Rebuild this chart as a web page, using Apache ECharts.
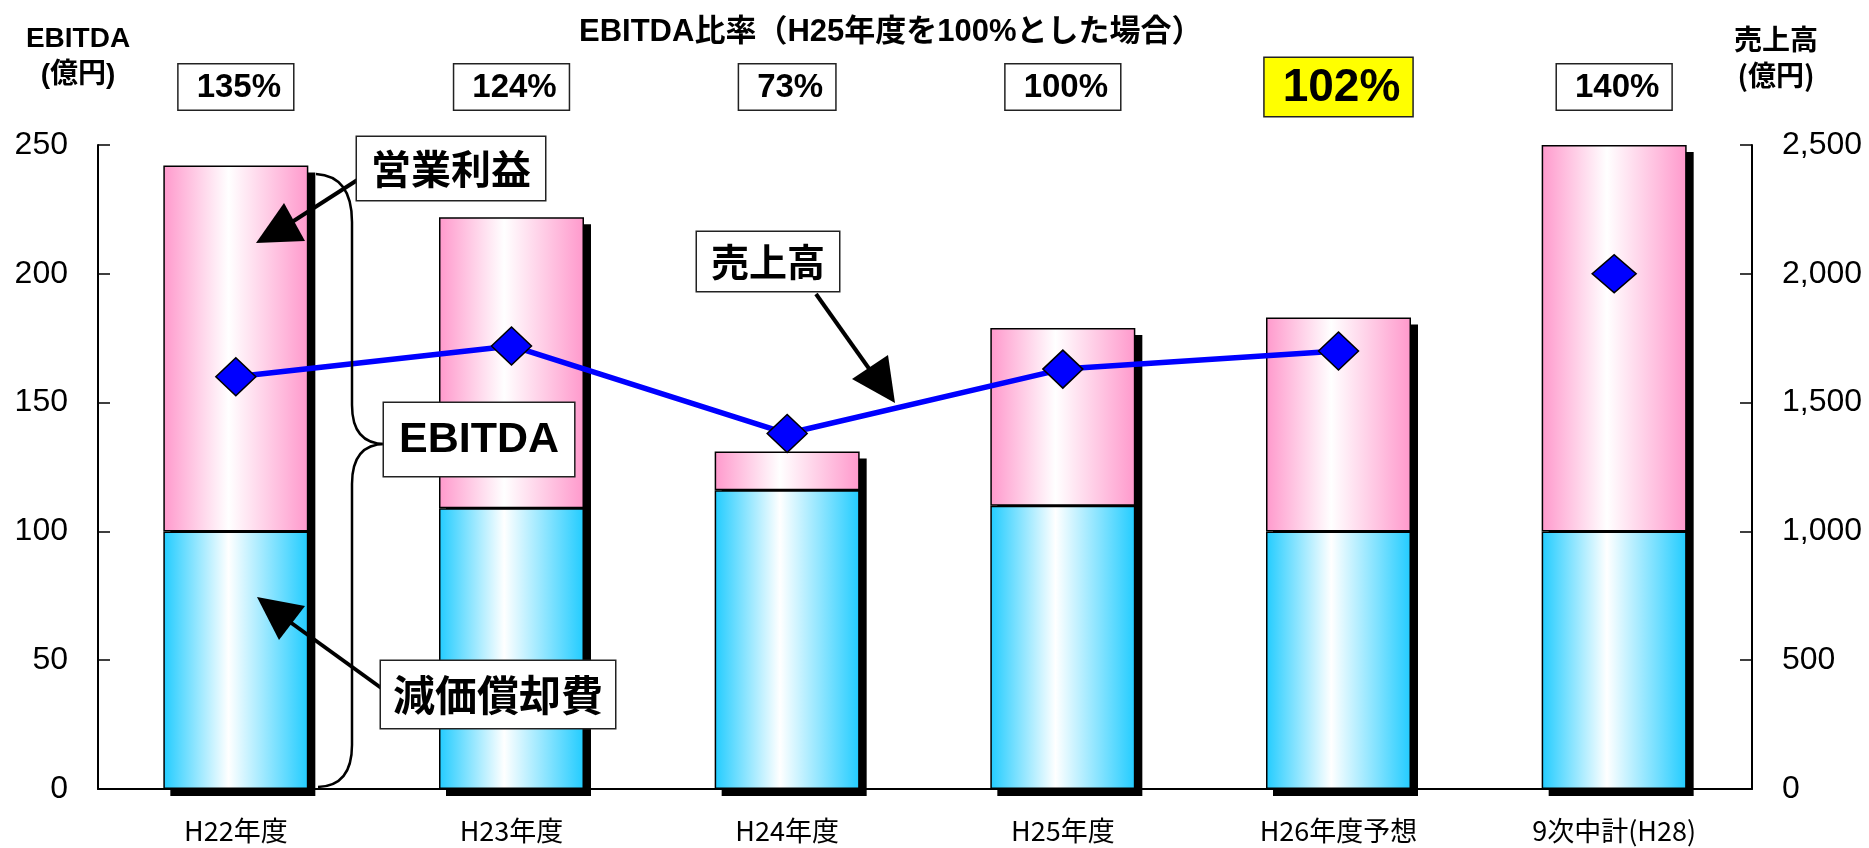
<!DOCTYPE html>
<html>
<head>
<meta charset="utf-8">
<script src="https://cdn.jsdelivr.net/npm/echarts@6.0.0/dist/echarts.min.js"></script>
<style>
html, body { margin: 0; padding: 0; background: #fff; }
#main { width: 1869px; height: 848px; }
</style>
</head>
<body>
<div id="main"></div>
<script>
// データ
const categories = ['H22年度', 'H23年度', 'H24年度', 'H25年度', 'H26年度予想', '9次中計(H28)'];
const depreciation = [100, 109, 116, 110, 100, 100];      // 減価償却費
const operatingProfit = [142, 113, 15, 69, 83, 150];      // 営業利益
const sales = [1600, 1720, 1380, 1630, 1700, 2000];       // 売上高
const ebitdaRatio = ['135%', '124%', '73%', '100%', '102%', '140%'];
const highlightIdx = 4;   // 黄色の枠
const planIdx = 5;        // 線でつながない点

const ebitdaTotal = depreciation.map((v, i) => v + operatingProfit[i]);

const FONT_NUM = "'Liberation Sans', 'Noto Sans CJK JP', sans-serif";
const FONT_JP = "'Noto Sans CJK JP', sans-serif";

function grad(edge) {
    return new echarts.graphic.LinearGradient(0, 0, 1, 0, [
        { offset: 0, color: edge },
        { offset: 0.45, color: '#ffffff' },
        { offset: 1, color: edge }
    ]);
}

// 吹き出しの枠
function box(x, y, text, fontSize, font, pad) {
    return {
        type: 'text', x: x, y: y, z: 100,
        style: {
            text: text,
            font: 'bold ' + fontSize + 'px ' + font,
            fill: '#000',
            backgroundColor: '#fff',
            borderColor: '#222',
            borderWidth: 1.5,
            padding: pad
        }
    };
}
function arrow(x1, y1, x2, y2, head) {
    return [
        { type: 'line', z: 90, shape: { x1: x1, y1: y1, x2: x2, y2: y2 }, style: { stroke: '#000', lineWidth: 4 } },
        { type: 'polygon', z: 90, shape: { points: head }, style: { fill: '#000' } }
    ];
}

let chart = echarts.init(document.getElementById('main'));

const option = {
    backgroundColor: '#fff',
    animation: false,
    title: {
        text: 'EBITDA比率（H25年度を100%とした場合）',
        left: 574,
        top: 12,
        textStyle: { fontSize: 31, fontWeight: 'bold', color: '#000', fontFamily: FONT_NUM }
    },
    grid: [
        { left: 98, right: 117, top: 145, bottom: 59, outerBoundsMode: 'none' },
        // 影用
        { left: 105, right: 110, top: 152, bottom: 52, outerBoundsMode: 'none' }
    ],
    xAxis: [
        {
            type: 'category',
            gridIndex: 0,
            data: categories,
            axisLine: { lineStyle: { color: '#000', width: 2 } },
            axisTick: { inside: true, length: 10, interval: 0, lineStyle: { color: '#000', width: 1.5 } },
            axisLabel: { color: '#000', fontSize: 27, fontFamily: FONT_JP, margin: 28, interval: 0 }
        },
        {
            type: 'category',
            gridIndex: 0,
            position: 'top',
            data: ebitdaRatio,
            axisLine: { show: false },
            axisTick: { show: false },
            axisLabel: {
                interval: 0,
                margin: 58,
                verticalAlign: 'middle',
                formatter: (v, i) => i === highlightIdx ? '{hi|' + v + '}' : '{box|' + v + '}',
                rich: {
                    box: {
                        fontSize: 33, fontWeight: 'bold', fontFamily: FONT_NUM, color: '#000',
                        backgroundColor: '#fff', borderColor: '#222', borderWidth: 1.5,
                        padding: [7, 12, 5, 18]
                    },
                    hi: {
                        fontSize: 46, fontWeight: 'bold', fontFamily: FONT_NUM, color: '#000',
                        backgroundColor: '#ffff00', borderColor: '#222', borderWidth: 1.5,
                        padding: [7, 12, 5, 18]
                    }
                }
            }
        },
        { type: 'category', gridIndex: 1, data: categories, show: false }
    ],
    yAxis: [
        {
            type: 'value',
            gridIndex: 0,
            min: 0, max: 250, interval: 50,
            name: 'EBITDA\n(億円)',
            nameLocation: 'end',
            nameGap: 52,
            nameTextStyle: {
                color: '#000', fontSize: 28, fontWeight: 'bold', fontFamily: FONT_NUM,
                lineHeight: 36, align: 'center', padding: [0, 40, 0, 0]
            },
            splitLine: { show: false },
            axisLine: { show: true, lineStyle: { color: '#000', width: 2 } },
            axisTick: { show: true, inside: true, length: 12, lineStyle: { color: '#000', width: 1.5 } },
            axisLabel: { color: '#000', fontSize: 32, fontFamily: FONT_NUM, margin: 30 }
        },
        {
            type: 'value',
            gridIndex: 0,
            position: 'right',
            min: 0, max: 2500, interval: 500,
            name: '売上高\n(億円)',
            nameLocation: 'end',
            nameGap: 52,
            nameTextStyle: {
                color: '#000', fontSize: 28, fontWeight: 'bold', fontFamily: FONT_JP,
                lineHeight: 36, align: 'center', padding: [0, 0, 0, 48]
            },
            splitLine: { show: false },
            axisLine: { show: true, lineStyle: { color: '#000', width: 2 } },
            axisTick: { show: true, inside: true, length: 12, lineStyle: { color: '#000', width: 1.5 } },
            axisLabel: {
                color: '#000', fontSize: 32, fontFamily: FONT_NUM, margin: 30,
                formatter: v => v.toLocaleString('en-US')
            }
        },
        { type: 'value', gridIndex: 1, min: 0, max: 250, show: false }
    ],
    series: [
        {
            name: '影',
            type: 'bar',
            xAxisIndex: 2, yAxisIndex: 2,
            data: ebitdaTotal,
            barWidth: 145,
            silent: true,
            z: 1,
            itemStyle: { color: '#000' }
        },
        {
            name: '減価償却費',
            type: 'bar',
            stack: 'ebitda',
            data: depreciation,
            barWidth: 145,
            z: 2,
            itemStyle: { color: grad('#22ccff'), borderColor: '#000', borderWidth: 1.5 }
        },
        {
            name: '営業利益',
            type: 'bar',
            stack: 'ebitda',
            data: operatingProfit,
            barWidth: 145,
            z: 2,
            itemStyle: { color: grad('#ff99cc'), borderColor: '#000', borderWidth: 1.5 }
        },
        {
            name: '売上高',
            type: 'line',
            yAxisIndex: 1,
            z: 5,
            data: sales.map((v, i) => i < planIdx ? v : '-'),
            lineStyle: { color: '#0000ff', width: 5.5 },
            symbol: 'diamond',
            symbolSize: [40, 38],
            itemStyle: { color: '#0000ff', borderColor: '#000', borderWidth: 1.5, opacity: 1 }
        },
        {
            name: '売上高(計画)',
            type: 'scatter',
            yAxisIndex: 1,
            z: 5,
            data: sales.map((v, i) => i === planIdx ? v : '-'),
            symbol: 'diamond',
            symbolSize: [44, 38],
            itemStyle: { color: '#0000ff', borderColor: '#000', borderWidth: 1.5, opacity: 1 }
        }
    ],
    graphic: [
        // 中括弧
        { type: 'bezierCurve', z: 80, shape: { x1: 316, y1: 174, cpx1: 352, cpy1: 176, x2: 352, y2: 222 }, style: { stroke: '#000', lineWidth: 2.5, fill: null } },
        { type: 'line', z: 80, shape: { x1: 352, y1: 222, x2: 352, y2: 405 }, style: { stroke: '#000', lineWidth: 2.5 } },
        { type: 'bezierCurve', z: 80, shape: { x1: 352, y1: 405, cpx1: 352, cpy1: 444, x2: 385, y2: 444 }, style: { stroke: '#000', lineWidth: 2.5, fill: null } },
        { type: 'bezierCurve', z: 80, shape: { x1: 385, y1: 444, cpx1: 352, cpy1: 444, x2: 352, y2: 484 }, style: { stroke: '#000', lineWidth: 2.5, fill: null } },
        { type: 'line', z: 80, shape: { x1: 352, y1: 484, x2: 352, y2: 745 }, style: { stroke: '#000', lineWidth: 2.5 } },
        { type: 'bezierCurve', z: 80, shape: { x1: 352, y1: 745, cpx1: 352, cpy1: 786, x2: 318, y2: 787 }, style: { stroke: '#000', lineWidth: 2.5, fill: null } },

        // 矢印
        ...arrow(362, 177, 292, 222, [[256, 243], [284, 203], [305, 241]]),
        ...arrow(384, 690, 290, 622, [[257, 597], [305, 606], [279, 640]]),
        ...arrow(816, 294, 870, 370, [[895, 403], [852, 379], [888, 355]]),

        // 吹き出し
        box(357, 137, '営業利益', 40, FONT_JP, [12, 14, 11, 14]),
        box(384, 403, 'EBITDA', 43, FONT_NUM, [16, 15, 14, 15]),
        box(381, 661, '減価償却費', 42, FONT_JP, [13, 12, 12, 12]),
        box(697, 232, '売上高', 38, FONT_JP, [11, 14, 10, 14])
    ]
};

chart.setOption(option);

window.addEventListener('resize', () => {
    chart.resize();
});
</script>
</body>
</html>
